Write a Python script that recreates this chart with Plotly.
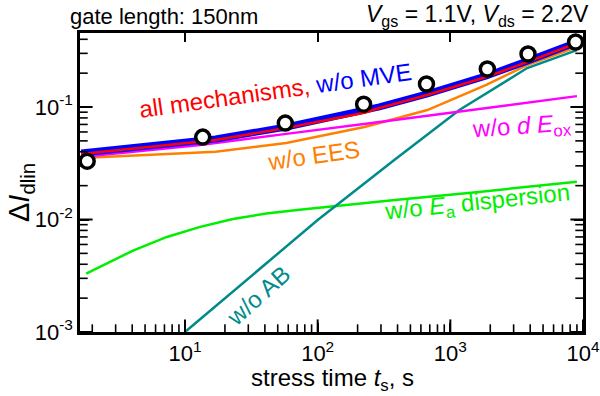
import plotly.graph_objects as go

# ---- data ----
t_lines = [1.65, 13, 17, 58, 225, 292, 671, 1866, 3793, 9000]
all_mech = [0.0382, 0.0490, 0.0509, 0.0651, 0.0890, 0.0980, 0.128, 0.185, 0.251, 0.371]
wo_mve = [0.0390, 0.0500, 0.0520, 0.0665, 0.0910, 0.1002, 0.131, 0.189, 0.256, 0.377]
wo_ees = [0.0352, 0.0390, 0.0400, 0.0478, 0.0664, 0.0720, 0.094, 0.157, 0.236, 0.341]

t_dEox = [1.65, 13, 60, 292, 9000]
wo_dEox = [0.036, 0.046, 0.058, 0.0735, 0.125]

t_ab = [10, 100, 380, 1170, 3793, 9000]
wo_ab = [0.001, 0.0099, 0.034, 0.094, 0.222, 0.32]

t_ea = [1.8, 4.06, 7.3, 13, 23, 41, 73, 146, 400, 1500, 9000]
wo_ea = [0.0033, 0.0053, 0.0070, 0.0086, 0.0101, 0.0113, 0.0122, 0.0133, 0.0150, 0.0174, 0.0217]

t_meas = [1.83, 13.6, 57, 222, 661, 1900, 3850, 8800]
meas = [0.033, 0.054, 0.072, 0.106, 0.16, 0.218, 0.296, 0.378]

x_tickvals = [10, 100, 1000, 10000]
x_ticktext = ["10<sup>1</sup>", "10<sup>2</sup>", "10<sup>3</sup>", "10<sup>4</sup>"]
y_tickvals = [0.001, 0.01, 0.1]
y_ticktext = ["10<sup>-3</sup>", "10<sup>-2</sup>", "10<sup>-1</sup>"]

FONT = "Liberation Sans, Arial, sans-serif"

XR = [0.2085, 4.0]      # log10 axis ranges
YR = [-3.0, -0.342]

x_minor = [k * d for d in [1, 10, 100, 1000] for k in range(2, 10) if k * d > 10 ** XR[0]]
y_minor = [k * d for d in y_tickvals for k in range(2, 10)]

fig = go.Figure()
fig.add_trace(go.Scatter(x=t_ea, y=wo_ea, mode="lines", line=dict(color="#00ee00", width=2.5)))
fig.add_trace(go.Scatter(x=t_ab, y=wo_ab, mode="lines", line=dict(color="#008b8b", width=2.5)))
fig.add_trace(go.Scatter(x=t_lines, y=wo_ees, mode="lines", line=dict(color="#ff8000", width=2.5)))
fig.add_trace(go.Scatter(x=t_dEox, y=wo_dEox, mode="lines", line=dict(color="#ff00ff", width=2.5)))
fig.add_trace(go.Scatter(x=t_lines, y=wo_mve, mode="lines", line=dict(color="#0000ff", width=7)))
fig.add_trace(go.Scatter(x=t_lines, y=all_mech, mode="lines", line=dict(color="#ff0000", width=2.5)))

# inside minor/major tick marks: line markers centred on the frame, clipped to the plot area
ybot, ytop = 10 ** YR[0], 10 ** YR[1]
xlft, xrgt = 10 ** XR[0], 10 ** XR[1]


def tick_trace(xs, ys, symbol, size, width):
    fig.add_trace(go.Scatter(x=xs, y=ys, mode="markers", cliponaxis=True, hoverinfo="skip",
                             marker=dict(symbol=symbol, size=size, color="black",
                                         line=dict(color="black", width=width))))


for edge in (ybot, ytop):
    tick_trace(x_tickvals, [edge] * len(x_tickvals), "line-ns", 18, 2)
    tick_trace(x_minor, [edge] * len(x_minor), "line-ns", 11, 1.6)
for edge in (xlft, xrgt):
    tick_trace([edge] * len(y_tickvals), y_tickvals, "line-ew", 18, 2)
    tick_trace([edge] * len(y_minor), y_minor, "line-ew", 11, 1.6)

fig.add_trace(go.Scatter(x=t_meas, y=meas, mode="markers", cliponaxis=False,
                         marker=dict(symbol="circle", size=14, color="white",
                                     line=dict(color="black", width=3.5))))

axis = dict(type="log", showgrid=False, zeroline=False, automargin=False,
            showline=True, linecolor="black", linewidth=2.5, mirror="allticks",
            ticks="inside", ticklen=9, tickwidth=2, tickcolor="black", tickmode="array",
            tickfont=dict(family=FONT, size=22, color="black"))

fig.update_layout(
    xaxis=dict(**axis, range=XR, tickvals=x_tickvals, ticktext=x_ticktext),
    yaxis=dict(**axis, range=YR, tickvals=y_tickvals, ticktext=y_ticktext),
)


def ann(text, px, py, color, angle=0, size=24, xanchor="center", yanchor="middle"):
    fig.add_annotation(text=text, xref="paper", yref="paper",
                       x=(px - 80) / 503, y=(332 - py) / 299,
                       xanchor=xanchor, yanchor=yanchor, showarrow=False,
                       textangle=angle, font=dict(family=FONT, size=size, color=color))


ann("stress time <i>t</i><sub>s</sub>, s", 332, 380, "black", size=24)
ann("Δ<i>I</i><sub>dlin</sub>", 21, 193, "black", size=29, angle=-90)
ann("gate length: 150nm", 68, 16, "black", size=22, xanchor="left")
ann("<i>V</i><sub>gs</sub> = 1.1V, <i>V</i><sub>ds</sub> = 2.2V", 591, 15, "black", size=23, xanchor="right")
ann('all mechanisms, <span style="color:#0000ff">w/o MVE</span>', 275, 90, "#ff0000", angle=-8)
ann("w/o EES", 313, 155, "#ff8000", angle=-8)
ann("w/o <i>d</i> <i>E</i><sub>ox</sub>", 521, 127, "#ff00ff", angle=-4)
ann("w/o <i>E</i><sub>a</sub> dispersion", 477, 203, "#00ee00", angle=-6)
ann("w/o AB", 258, 295, "#008b8b", angle=-42)

fig.update_layout(
    width=600, height=396,
    margin=dict(l=80, r=17, t=33, b=64),
    plot_bgcolor="white", paper_bgcolor="white",
    showlegend=False,
    font=dict(family=FONT, size=20, color="black"),
)

fig.write_html("out.html", config={"displayModeBar": False},
               post_script="document.body.style.margin='0';")
